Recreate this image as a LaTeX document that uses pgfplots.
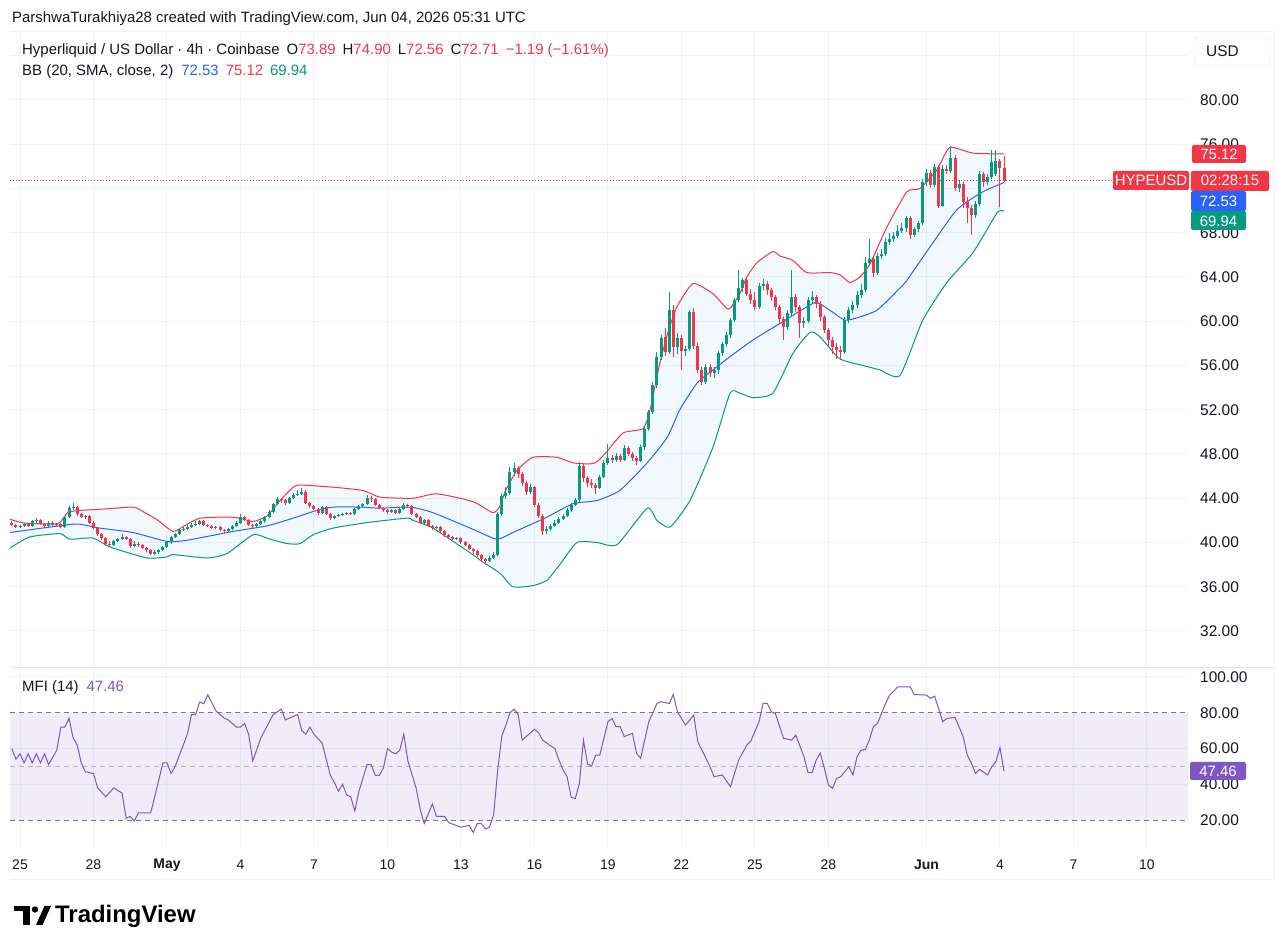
\documentclass[border=0pt]{standalone}
\usepackage{pgfplots}
\pgfplotsset{compat=1.18}
\usepackage{pgfplotstable}
\usepackage{fontspec}
\setmainfont{Liberation Sans}
\definecolor{upc}{RGB}{8,153,129}
\definecolor{dnc}{RGB}{242,54,69}
\definecolor{bbblue}{RGB}{41,98,255}
\definecolor{bbfillc}{RGB}{33,150,243}
\definecolor{mfic}{RGB}{126,87,194}
\definecolor{gridc}{RGB}{240,243,250}
\definecolor{framec}{RGB}{224,227,235}
\definecolor{txt}{RGB}{19,23,34}
\definecolor{dashc}{RGB}{120,123,134}
\newcommand\fs[1]{\fontsize{#1}{#1}\selectfont}

% rising candles (close >= open)
\pgfplotstableread{
k o h l c
0 41.4 41.6 41.3 41.5
1 41.5 41.8 41.4 41.7
3 41.5 42.0 41.4 41.9
4 41.9 42.2 41.8 42.0
7 41.5 41.9 41.4 41.8
9 41.6 41.8 41.5 41.7
11 41.4 42.4 41.3 42.3
12 42.3 43.3 42.2 43.1
13 43.1 43.6 42.9 43.2
16 42.3 42.5 42.1 42.4
23 39.8 40.2 39.7 40.1
24 40.1 40.4 40.0 40.3
25 40.3 40.8 40.2 40.5
28 39.7 40.1 39.6 39.9
33 39.0 39.3 38.9 39.1
34 39.1 39.4 39.0 39.3
35 39.3 39.7 39.2 39.6
36 39.6 40.1 39.5 40.0
37 40.0 40.6 39.9 40.5
38 40.5 40.9 40.4 40.8
39 40.8 41.2 40.7 41.1
40 41.1 41.4 41.0 41.2
41 41.2 41.6 41.1 41.4
42 41.4 41.8 41.3 41.6
43 41.6 41.9 41.5 41.7
44 41.7 42.0 41.6 41.9
48 41.3 41.5 41.2 41.4
51 41.0 41.3 40.9 41.2
52 41.2 41.6 41.1 41.5
53 41.5 41.9 41.4 41.8
54 41.8 42.6 41.7 42.3
58 41.5 41.8 41.4 41.7
59 41.7 42.0 41.6 41.9
60 41.9 42.4 41.8 42.3
61 42.3 42.9 42.2 42.8
62 42.8 43.6 42.7 43.5
63 43.5 44.1 43.4 43.9
66 43.6 44.1 43.5 44.0
67 44.0 44.5 43.9 44.3
68 44.3 44.7 44.2 44.4
69 44.4 44.9 44.3 44.6
74 42.7 43.3 42.6 43.2
77 42.2 42.5 42.1 42.4
78 42.4 42.6 42.3 42.5
79 42.5 42.7 42.4 42.6
80 42.6 42.8 42.5 42.7
82 42.6 43.1 42.5 43.0
83 43.0 43.4 42.9 43.3
84 43.3 43.6 43.2 43.5
85 43.5 44.3 43.4 44.0
91 42.8 43.0 42.7 42.9
93 42.7 43.1 42.6 43.0
94 43.0 43.6 42.9 43.4
99 41.8 42.1 41.7 42.0
102 41.3 41.5 41.2 41.4
107 40.3 40.5 40.2 40.4
115 38.3 38.8 38.2 38.6
116 38.6 39.1 38.5 38.9
117 38.9 42.8 38.8 42.6
118 42.6 44.5 42.4 44.2
119 44.2 45.0 43.9 44.5
120 44.5 46.8 44.3 46.4
121 46.4 47.2 46.0 46.7
125 44.6 45.3 44.4 45.0
129 41.0 41.5 40.8 41.2
130 41.2 41.7 41.0 41.5
131 41.5 42.0 41.4 41.8
132 41.8 42.3 41.7 42.1
133 42.1 42.6 42.0 42.4
134 42.4 43.1 42.3 42.9
135 42.9 43.6 42.8 43.4
136 43.4 44.0 43.3 43.8
137 43.8 47.3 43.7 46.9
142 44.9 46.1 44.8 45.9
143 45.9 47.5 45.8 47.2
144 47.2 48.9 47.0 47.6
146 47.5 48.1 47.3 47.8
148 47.5 48.8 47.4 48.5
152 47.4 48.8 47.3 48.6
153 48.6 50.5 48.4 50.3
154 50.3 52.0 50.1 51.8
155 51.8 54.5 51.6 54.2
156 54.2 57.2 54.0 56.8
157 56.8 58.8 56.5 58.5
159 57.2 62.6 57.0 61.0
161 57.7 58.9 57.0 58.5
163 57.3 57.8 56.9 57.5
164 57.5 61.0 57.3 60.8
168 54.5 56.1 54.3 55.9
170 55.3 55.9 54.9 55.6
171 55.6 57.3 55.2 57.1
172 57.1 58.1 56.9 57.9
173 57.9 59.0 57.7 58.8
174 58.8 60.3 58.5 60.1
175 60.1 62.1 59.9 61.9
176 61.9 64.6 61.7 63.0
177 63.0 63.9 62.6 63.7
181 61.3 63.5 61.1 63.2
182 63.2 63.8 62.8 63.4
188 59.5 61.0 59.2 60.7
189 60.7 64.6 60.5 62.2
192 59.8 60.4 59.4 60.0
193 60.0 62.2 59.8 61.9
194 61.9 62.7 61.6 62.2
202 57.2 60.4 57.0 60.1
203 60.1 61.3 59.8 61.0
204 61.0 61.8 60.7 61.5
205 61.5 62.7 61.2 62.4
206 62.4 63.4 62.1 62.8
207 62.8 65.8 62.6 65.3
208 65.3 67.4 65.0 65.6
210 64.4 66.2 64.2 65.9
211 65.9 66.5 65.6 66.1
212 66.1 67.5 65.9 67.2
213 67.2 68.0 66.9 67.4
214 67.4 68.1 67.2 67.7
215 67.7 68.7 67.5 68.2
216 68.2 68.9 68.0 68.4
217 68.4 69.5 68.1 69.3
219 67.8 68.5 67.6 68.3
220 68.3 69.1 68.1 68.9
221 68.9 72.9 68.7 72.6
222 72.6 73.8 72.2 73.4
224 72.3 74.2 72.1 73.9
226 70.4 74.1 70.3 73.8
228 73.6 75.8 73.4 74.8
230 72.0 72.8 71.7 72.4
234 69.6 70.9 69.3 70.6
235 70.6 73.6 70.4 73.3
237 72.6 73.3 72.3 73.0
238 73.0 75.5 72.9 74.4
239 73.3 75.5 73.1 74.5
}\upcandles

% falling candles (close < open)
\pgfplotstableread{
k o h l c
-2 41.8 41.9 41.5 41.6
-1 41.6 41.7 41.3 41.4
2 41.7 41.8 41.4 41.5
5 42.0 42.1 41.6 41.7
6 41.7 41.8 41.3 41.5
8 41.8 41.9 41.5 41.6
10 41.7 41.8 41.3 41.4
14 43.2 43.3 42.4 42.6
15 42.6 42.7 42.2 42.3
17 42.4 42.5 41.7 41.8
18 41.8 41.9 41.2 41.3
19 41.3 41.4 40.6 40.8
20 40.8 40.9 40.2 40.4
21 40.4 40.5 39.7 39.9
22 39.9 40.1 39.6 39.8
26 40.5 40.6 40.2 40.3
27 40.3 40.4 39.5 39.7
29 39.9 40.0 39.6 39.8
30 39.8 39.9 39.4 39.5
31 39.5 39.6 39.1 39.3
32 39.3 39.4 38.9 39.0
45 41.9 42.0 41.5 41.6
46 41.6 41.7 41.4 41.5
47 41.5 41.6 41.2 41.3
49 41.4 41.5 41.0 41.1
50 41.1 41.2 40.9 41.0
55 42.3 42.4 41.9 42.0
56 42.0 42.1 41.5 41.6
57 41.6 41.7 41.3 41.5
64 43.9 44.0 43.6 43.8
65 43.8 43.9 43.4 43.6
70 44.6 44.7 43.5 43.6
71 43.6 43.7 43.1 43.3
72 43.3 43.4 42.9 43.0
73 43.0 43.1 42.5 42.7
75 43.2 43.3 42.5 42.6
76 42.6 42.7 42.0 42.2
81 42.7 42.8 42.5 42.6
86 44.0 44.2 43.7 43.9
87 43.9 44.0 43.3 43.4
88 43.4 43.5 43.0 43.1
89 43.1 43.2 42.8 42.9
90 42.9 43.0 42.6 42.8
92 42.9 43.0 42.6 42.7
95 43.4 43.5 43.1 43.3
96 43.3 43.4 42.5 42.6
97 42.6 42.7 42.2 42.3
98 42.3 42.4 41.7 41.8
100 42.0 42.1 41.4 41.5
101 41.5 41.6 41.1 41.3
103 41.4 41.5 40.9 41.0
104 41.0 41.1 40.5 40.7
105 40.7 40.8 40.4 40.5
106 40.5 40.6 40.2 40.3
108 40.4 40.5 39.9 40.0
109 40.0 40.1 39.7 39.8
110 39.8 39.9 39.3 39.4
111 39.4 39.5 39.0 39.2
112 39.2 39.3 38.7 38.9
113 38.9 39.0 38.3 38.5
114 38.5 38.6 38.0 38.3
122 46.7 46.9 45.8 46.2
123 46.2 46.4 45.1 45.4
124 45.4 45.6 44.3 44.6
126 45.0 45.1 43.2 43.4
127 43.4 43.6 42.2 42.4
128 42.4 42.6 40.7 41.0
138 46.9 47.1 45.5 45.8
139 45.8 46.0 45.0 45.4
140 45.4 45.7 44.9 45.2
141 45.2 45.4 44.4 44.9
145 47.6 47.9 47.2 47.5
147 47.8 48.0 47.3 47.5
149 48.5 48.7 47.8 48.0
150 48.0 48.2 47.4 47.6
151 47.6 47.8 47.0 47.4
158 58.6 59.4 56.9 57.2
160 61.0 61.5 56.8 57.7
162 58.5 58.8 55.6 57.3
165 60.8 61.2 57.5 57.8
166 57.8 58.0 55.3 55.6
167 55.6 55.9 54.2 54.5
169 55.9 56.1 55.0 55.3
178 63.7 63.9 62.3 62.5
179 62.5 62.9 61.6 61.9
180 61.9 62.6 61.0 61.3
183 63.4 63.6 62.4 62.8
184 62.8 63.0 61.8 62.2
185 62.2 62.4 61.0 61.3
186 61.3 61.5 59.8 60.2
187 60.2 60.4 58.3 59.5
190 62.2 62.5 60.8 61.3
191 61.3 61.5 58.5 59.8
195 62.2 62.4 61.2 61.6
196 61.6 61.8 60.0 60.4
197 60.4 60.6 58.9 59.2
198 59.2 59.4 57.8 58.3
199 58.3 58.6 57.0 57.7
200 57.7 58.0 56.6 57.4
201 57.4 57.8 56.5 57.2
209 65.6 65.8 64.0 64.4
218 69.3 69.5 67.4 67.8
223 73.4 73.7 72.0 72.3
225 73.9 74.1 70.2 70.4
227 73.8 74.1 73.3 73.6
229 74.8 75.0 71.8 72.0
231 72.4 72.6 70.2 70.8
232 70.8 71.2 68.9 70.2
233 70.2 70.5 67.8 69.6
236 73.3 73.5 72.1 72.6
240 74.5 74.7 70.3 73.89
241 73.89 74.90 72.56 72.71
}\dncandles

\pgfplotstablecreatecol[create col/expr={\thisrow{h}-\thisrow{l}}]{hl}{\upcandles}
\pgfplotstablecreatecol[create col/expr={max(\thisrow{c}-\thisrow{o},0.08)}]{body}{\upcandles}
\pgfplotstablecreatecol[create col/expr={\thisrow{h}-\thisrow{l}}]{hl}{\dncandles}
\pgfplotstablecreatecol[create col/expr={max(\thisrow{o}-\thisrow{c},0.08)}]{body}{\dncandles}

\pgfplotstableread{
k v
-2.45 42.1
1.2 41.75
9.1 41.7
10.8 42.3
11.8 42.75
14.7 42.9
19.6 43.0
27.7 43.2
30.1 42.8
33.8 42.0
37.5 41.0
40.7 41.6
44.1 42.2
50.7 42.3
53.9 42.2
57.1 41.9
60.5 42.4
63.7 43.8
66.9 45.0
68.6 45.2
76.7 45.0
84.0 44.7
88.2 44.1
96.2 44.0
102.1 44.4
110.9 43.7
115.8 42.7
117.6 43.3
118.8 44.6
121.7 46.5
125.6 47.7
131.5 47.7
135.4 47.2
139.6 47.1
141.3 47.3
143.7 48.2
147.7 49.9
152.6 50.3
154.3 52.0
156.7 56.2
158.7 59.0
160.9 61.3
164.8 63.4
169.7 62.5
173.5 61.1
176.3 62.5
178.0 64.0
180.5 65.3
184.4 66.3
186.1 65.9
189.3 65.5
192.7 64.4
198.4 64.4
200.8 64.2
203.2 63.5
205.7 64.0
208.2 65.2
212.3 68.5
217.2 71.7
220.4 72.0
224.6 73.7
227.7 75.7
233.4 75.2
241 75.12
}\bbup

\pgfplotstableread{
k v
-2.45 40.9
11.5 41.6
14.7 41.65
19.6 41.3
27.7 40.9
36.0 40.1
40.9 40.2
52.2 41.0
60.5 41.5
66.9 42.2
72.7 42.9
76.7 43.2
83.3 43.2
88.2 43.1
95.5 43.2
101.1 42.7
110.9 41.2
116.8 40.3
120.7 40.9
129.1 42.3
135.4 43.5
141.3 43.8
146.9 44.7
153.6 47.2
158.5 49.5
161.6 52.0
165.8 54.4
169.7 55.6
173.9 56.8
179.5 58.3
186.1 59.8
192.7 61.3
195.2 61.7
199.1 60.8
202.0 60.1
204.9 60.3
209.9 61.0
215.5 63.0
217.2 63.7
223.6 67.1
229.5 70.1
235.8 71.7
241 72.53
}\bbmid

\pgfplotstableread{
k v
-2.45 39.5
2.4 40.5
9.8 40.8
12.2 40.3
17.9 40.4
22.0 39.6
31.1 38.6
36.0 38.7
37.5 38.9
45.8 38.6
50.7 39.0
57.1 40.7
61.2 40.3
65.4 39.9
68.6 39.9
71.8 40.7
76.7 41.3
85.0 41.8
94.8 42.2
96.2 42.0
101.1 41.3
110.9 38.9
112.7 38.4
117.6 37.2
120.7 36.0
125.6 36.1
129.1 36.6
132.2 38.0
136.4 40.0
141.3 40.0
146.2 39.8
153.6 43.1
156.0 42.0
159.2 41.4
164.1 43.8
169.7 48.6
173.9 53.5
176.3 53.5
179.5 53.1
184.4 53.5
189.3 57.1
193.5 59.0
195.9 58.6
200.8 56.6
206.5 56.0
210.6 55.6
215.5 55.1
221.1 60.1
227.0 63.5
233.4 66.2
239.3 69.8
241 69.94
}\bblo

% band outline: upper band left to right, then lower band right to left
\pgfplotstableread{
k v
-2.45 42.1
1.2 41.75
9.1 41.7
10.8 42.3
11.8 42.75
14.7 42.9
19.6 43.0
27.7 43.2
30.1 42.8
33.8 42.0
37.5 41.0
40.7 41.6
44.1 42.2
50.7 42.3
53.9 42.2
57.1 41.9
60.5 42.4
63.7 43.8
66.9 45.0
68.6 45.2
76.7 45.0
84.0 44.7
88.2 44.1
96.2 44.0
102.1 44.4
110.9 43.7
115.8 42.7
117.6 43.3
118.8 44.6
121.7 46.5
125.6 47.7
131.5 47.7
135.4 47.2
139.6 47.1
141.3 47.3
143.7 48.2
147.7 49.9
152.6 50.3
154.3 52.0
156.7 56.2
158.7 59.0
160.9 61.3
164.8 63.4
169.7 62.5
173.5 61.1
176.3 62.5
178.0 64.0
180.5 65.3
184.4 66.3
186.1 65.9
189.3 65.5
192.7 64.4
198.4 64.4
200.8 64.2
203.2 63.5
205.7 64.0
208.2 65.2
212.3 68.5
217.2 71.7
220.4 72.0
224.6 73.7
227.7 75.7
233.4 75.2
241 75.12
241 69.94
239.3 69.8
233.4 66.2
227.0 63.5
221.1 60.1
215.5 55.1
210.6 55.6
206.5 56.0
200.8 56.6
195.9 58.6
193.5 59.0
189.3 57.1
184.4 53.5
179.5 53.1
176.3 53.5
173.9 53.5
169.7 48.6
164.1 43.8
159.2 41.4
156.0 42.0
153.6 43.1
146.2 39.8
141.3 40.0
136.4 40.0
132.2 38.0
129.1 36.6
125.6 36.1
120.7 36.0
117.6 37.2
112.7 38.4
110.9 38.9
101.1 41.3
96.2 42.0
94.8 42.2
85.0 41.8
76.7 41.3
71.8 40.7
68.6 39.9
65.4 39.9
61.2 40.3
57.1 40.7
50.7 39.0
45.8 38.6
37.5 38.9
36.0 38.7
31.1 38.6
22.0 39.6
17.9 40.4
12.2 40.3
9.8 40.8
2.4 40.5
-2.45 39.5
}\bbband

\pgfplotstableread{
k v
-2 60
-1 54
0 57
1 52
2 57
3 52
4 57
5 52
6 57
7 51
9 59
10 72
11 72
12 77
13 66
14 62
15 52
16 47
18 46
19 38
21 33
23 38
25 35
26 21
27 22
28 19.5
29 24
32 24
33 33
35 52
36 52
37 46
38 50
41 68
42 79
43 79
44 86
45 85
46 90
48 81
50 77
51 76
53 72
54 72
55 74
56 68
57 53
59 66
62 79
64 82
65 76
68 79
69 70
70 68
71 72
72 68
74 63
76 45
77 41
78 36
79 40
80 34
81 33
82 25
83 36
85 51
86 51
87 45
88 45
89 49
90 60
91 58
92 57
93 59
94 68
95 53
97 38
98 26
99 18
101 29
102 22
104 22
105 18.5
108 16
110 17
111 13
112 18
113 18
114 15
115 16
116 23
117 48
118 67
119 73
120 80
121 82
122 79
123 64.7
126 70.7
127 68.8
128 64.7
130 61.4
131 60
132 53.5
133 48
134 44.2
135 32.7
136 32
137 40.5
138 64.7
139 51.3
140 50.2
141 56.3
142 56.3
144 75
145 76.8
146 72.2
147 72.2
148 66.6
150 68.5
151 57.3
152 54.5
154 75
156 85.2
157 86.1
159 85.2
160 90.2
161 80.6
163 73.1
165 78.7
166 63.8
168 54.5
169 49.8
170 44.2
172 45.2
174 38.6
176 53.5
178 61.9
179 64.2
181 75
182 85.2
183 85.2
184 80.6
185 79.6
187 65.7
189 64.7
190 67.5
192 55.4
193 46.5
194 46.5
195 53.5
196 57.3
197 48.9
198 39.6
199 37.7
200 43.3
201 44.2
203 49.8
204 45.2
205 55.4
206 59.1
207 59.5
208 64.7
209 72.2
210 74
212 85.2
213 89.9
215 94.5
218 94.5
219 90.2
222 89.9
223 88
224 89.3
226 75
227 76.8
229 77.4
231 66.6
232 56.3
233 51.7
234 46.1
235 48.3
237 45.2
238 49.8
239 52.6
240 60.6
241 47.46
}\mfi

\pgfplotsset{
  tvax/.style={
    scale only axis, width=1178bp,
    xmin=-2.45, xmax=286.06,
    axis line style={draw=none},
    major tick length=0pt,
    xtick={0,18,36,54,72,90,108,126,144,162,180,198,222,240,258,276},
    grid=major,
    major grid style={draw=gridc, line width=1bp},
    yticklabel pos=right,
    yticklabel style={anchor=west, inner sep=0pt, xshift=12bp, font=\fs{15.5}, text=txt},
  },
  wick/.style={draw=none, mark=none,
    error bars/.cd, y dir=plus, y explicit, error mark=none,
    error bar style={line width=1bp, draw=#1, solid}},
  body/.style={draw=none, mark=none,
    error bars/.cd, y dir=plus, y explicit, error mark=none,
    error bar style={line width=3bp, draw=#1, solid}},
  bbline/.style={line width=1bp, smooth, tension=0.35},
}

\begin{document}
\begin{tikzpicture}
\useasboundingbox (0,0) rectangle (1287bp,952bp);
\fill[white] (0,0) rectangle (1287bp,952bp);

% ---------- price panel ----------
\begin{axis}[tvax,
  at={(10bp,284bp)}, anchor=south west, height=636bp,
  ymin=28.655, ymax=86.147,
  xticklabels={},
  ytick={32,36,40,44,48,52,56,60,64,68,72,76,80,84},
  yticklabels={32.00,36.00,40.00,44.00,48.00,52.00,56.00,60.00,64.00,68.00,{},76.00,80.00,{}},
]
\addplot[draw=none, fill=bbfillc, fill opacity=0.06, smooth, tension=0.35] table[x=k,y=v]{\bbband};
\addplot[dnc, bbline] table[x=k,y=v]{\bbup};
\addplot[bbblue, bbline] table[x=k,y=v]{\bbmid};
\addplot[upc, bbline] table[x=k,y=v]{\bblo};
\addplot[dnc, line width=1bp, dash pattern=on 1bp off 2bp] coordinates {(-2.45,72.71) (286.06,72.71)};
% candles: wicks then bodies
\addplot[wick=upc] table[x=k, y=l, y error plus=hl]{\upcandles};
\addplot[wick=dnc] table[x=k, y=l, y error plus=hl]{\dncandles};
\addplot[body=upc] table[x=k, y=o, y error plus=body]{\upcandles};
\addplot[body=dnc] table[x=k, y=c, y error plus=body]{\dncandles};
\end{axis}

% ---------- MFI panel ----------
\begin{axis}[tvax,
  at={(10bp,105bp)}, anchor=south west, height=179bp,
  ymin=4.9, ymax=105.03,
  ytick={20,40,60,80,100},
  yticklabels={20.00,40.00,60.00,80.00,100.00},
  xticklabels={25,28,\textbf{May},4,7,10,13,16,19,22,25,28,\textbf{Jun},4,7,10},
  xticklabel style={anchor=center, yshift=-18bp, font=\fs{14}, text=txt},
]
\addplot[draw=none, fill=mfic, fill opacity=0.1] coordinates {(-2.45,20) (286.06,20) (286.06,80) (-2.45,80)};
\addplot[dashc, line width=1bp, dash pattern=on 5bp off 4bp] coordinates {(-2.45,80) (286.06,80)};
\addplot[dashc!55, line width=1bp, dash pattern=on 5bp off 4bp] coordinates {(-2.45,50) (286.06,50)};
\addplot[dashc, line width=1bp, dash pattern=on 5bp off 4bp] coordinates {(-2.45,20) (286.06,20)};
\addplot[mfic, line width=1bp] table[x=k,y=v]{\mfi};
\end{axis}

\begin{scope}[x=1bp,y=1bp]
% frame lines
\draw[framec, line width=1bp] (10,284) -- (1274,284);
\draw[gridc, line width=1bp] (1274,72) -- (1274,920);
\draw[gridc, line width=1bp] (10,72) -- (1274,72);
\draw[gridc, line width=1bp] (10,920) -- (1274,920);
% header
\node[anchor=west, inner sep=0, text=txt] at (12,933) {\fs{15}ParshwaTurakhiya28 created with TradingView.com, Jun 04, 2026 05:31 UTC};
\node[anchor=west, inner sep=0, text=txt] at (22,901) {\fs{15}Hyperliquid / US Dollar · 4h · Coinbase\hspace{7bp}O\textcolor{dnc}{73.89}\hspace{7bp}H\textcolor{dnc}{74.90}\hspace{7bp}L\textcolor{dnc}{72.56}\hspace{7bp}C\textcolor{dnc}{72.71}\hspace{7bp}\textcolor{dnc}{−1.19 (−1.61\%)}};
\node[anchor=west, inner sep=0, text=txt] at (22,880) {\fs{15}BB (20, SMA, close, 2)\hspace{8bp}\textcolor{bbblue}{72.53}\hspace{7bp}\textcolor{dnc}{75.12}\hspace{7bp}\textcolor{upc}{69.94}};
\node[anchor=west, inner sep=0, text=txt] at (22,264) {\fs{15}MFI (14)\hspace{8bp}\textcolor{mfic}{47.46}};
% USD box
\draw[framec, fill=white, rounded corners=2bp] (1195,887) rectangle (1270,915);
\node[anchor=west, inner sep=0, text=txt] at (1206,901) {\fs{15.5}USD};
% tags
\fill[dnc, rounded corners=2bp] (1192,789) rectangle (1246,807);
\node[text=white, inner sep=0] at (1219,798) {\fs{15}75.12};
\fill[dnc, rounded corners=2bp] (1113,762) rectangle (1189,781);
\node[text=white, inner sep=0] at (1151,771.5) {\fs{15}HYPEUSD};
\fill[dnc, rounded corners=2bp] (1191,761) rectangle (1269,781);
\node[text=white, inner sep=0] at (1230,771.5) {\fs{15}02:28:15};
\fill[bbblue, rounded corners=2bp] (1191,741) rectangle (1246,761);
\node[text=white, inner sep=0] at (1218.5,751) {\fs{15}72.53};
\fill[upc, rounded corners=2bp] (1191,722) rectangle (1246,741);
\node[text=white, inner sep=0] at (1218.5,731) {\fs{15}69.94};
\fill[mfic, rounded corners=2bp] (1190,172) rectangle (1246,190);
\node[text=white, inner sep=0] at (1218,181) {\fs{15}47.46};
% TradingView logo
\fill[black] (14,41) rectangle (30,46);
\fill[black] (23,27) rectangle (30,46);
\fill[black] (35,42.5) circle (3.2);
\fill[black] (36,27) -- (42.5,27) -- (51,46) -- (44.5,46) -- cycle;
\node[anchor=west, inner sep=0, text=black] at (55,36) {\fs{24}\bfseries TradingView};
\end{scope}
\end{tikzpicture}
\end{document}
